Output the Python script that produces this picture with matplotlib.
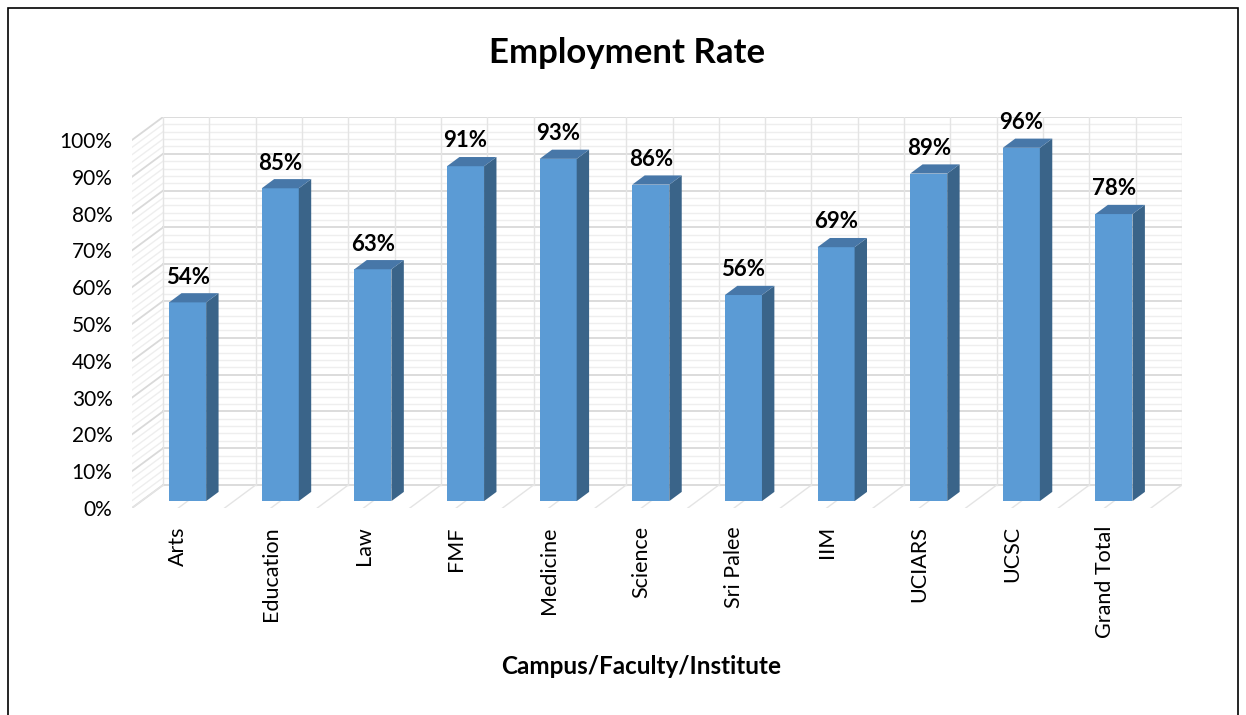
import numpy as np
import matplotlib.pyplot as plt
from matplotlib.patches import Polygon, Rectangle

plt.rcParams['font.family'] = ['Lato', 'DejaVu Sans']

categorias = ["Arts", "Education", "Law", "FMF", "Medicine", "Science",
              "Sri Palee", "IIM", "UCIARS", "UCSC", "Grand Total"]
taxa = [0.54, 0.85, 0.63, 0.91, 0.93, 0.86, 0.56, 0.69, 0.89, 0.96, 0.78]
rotulos_y = ["0%", "10%", "20%", "30%", "40%", "50%",
             "60%", "70%", "80%", "90%", "100%"]

# profundidade do "3D" (em unidades de dados)
DX = 0.335
DY = 0.0625
largura = 0.4
n = len(categorias)

fig = plt.figure(figsize=(12.46, 7.15), dpi=100)
ax = fig.add_axes([132 / 1246, 1 - 508 / 715, 1050 / 1246, 391 / 715])
ax.set_xlim(-0.5, n - 0.5 + DX)
ax.set_ylim(0, 1 + DY)

x0 = -0.5
x1 = n - 0.5
cor_major = "#d9d9d9"
cor_minor = "#eeeeee"

# parede do fundo
for v in np.arange(0, 1.0001, 0.02):
    major = abs(v * 10 - round(v * 10)) < 1e-6
    c = cor_major if major else cor_minor
    lw = 1.3 if major else 1.0
    ax.plot([x0 + DX, x1 + DX], [v + DY, v + DY], color=c, lw=lw, zorder=1)
    # parede lateral esquerda
    ax.plot([x0, x0 + DX], [v, v + DY], color=c, lw=lw, zorder=1)
for xv in np.arange(x0, x1 + 0.001, 0.5):
    ax.plot([xv + DX, xv + DX], [DY, 1 + DY], color="#e4e4e4", lw=1.0, zorder=1)
    # linhas do chao
    ax.plot([xv, xv + DX], [0, DY], color="#e4e4e4", lw=1.0, zorder=1)

# barras
for i, v in enumerate(taxa):
    xa = i - largura / 2 + 0.3 * DX
    xb = i + largura / 2 + 0.3 * DX
    yb = 0.3 * DY
    yt = v + 0.3 * DY
    dx = 0.4 * DX
    dy = 0.4 * DY
    ax.add_patch(Rectangle((xa, yb), xb - xa, yt - yb, facecolor="#5B9BD5",
                           edgecolor="none", zorder=3))
    ax.add_patch(Polygon([(xb, yb), (xb + dx, yb + dy), (xb + dx, yt + dy), (xb, yt)],
                         closed=True, facecolor="#3A6489", edgecolor="none", zorder=3))
    ax.add_patch(Polygon([(xa, yt), (xb, yt), (xb + dx, yt + dy), (xa + dx, yt + dy)],
                         closed=True, facecolor="#4777A8", edgecolor="none", zorder=3))
    ax.annotate(f"{round(v * 100):.0f}%", xy=((xa + xb) / 2, yt + dy),
                xytext=(0, 4), textcoords="offset points", ha="center", va="bottom",
                fontsize=16, fontweight="bold", zorder=4)

ax.set_xticks(range(n))
ax.set_xticklabels(categorias, rotation=90, fontsize=15.5)
ax.set_yticks(np.arange(0, 1.0001, 0.1))
ax.set_yticklabels(rotulos_y, fontsize=15)
ax.tick_params(axis="both", length=0)
ax.tick_params(axis="x", pad=13)
ax.tick_params(axis="y", pad=14)
for s in ax.spines.values():
    s.set_visible(False)

fig.text(627 / 1246, 1 - 53 / 715, "Employment Rate", ha="center", va="center",
         fontsize=25, fontweight="bold")
fig.text(641 / 1246, 1 - 667 / 715, "Campus/Faculty/Institute", ha="center", va="center",
         fontsize=17.5, fontweight="bold")

fig.patches.append(Rectangle((8 / 1246, -0.02), 1230 / 1246, 1.02 - 8 / 715,
                             transform=fig.transFigure, fill=False,
                             edgecolor="black", lw=1.2))

plt.savefig("out.png")
